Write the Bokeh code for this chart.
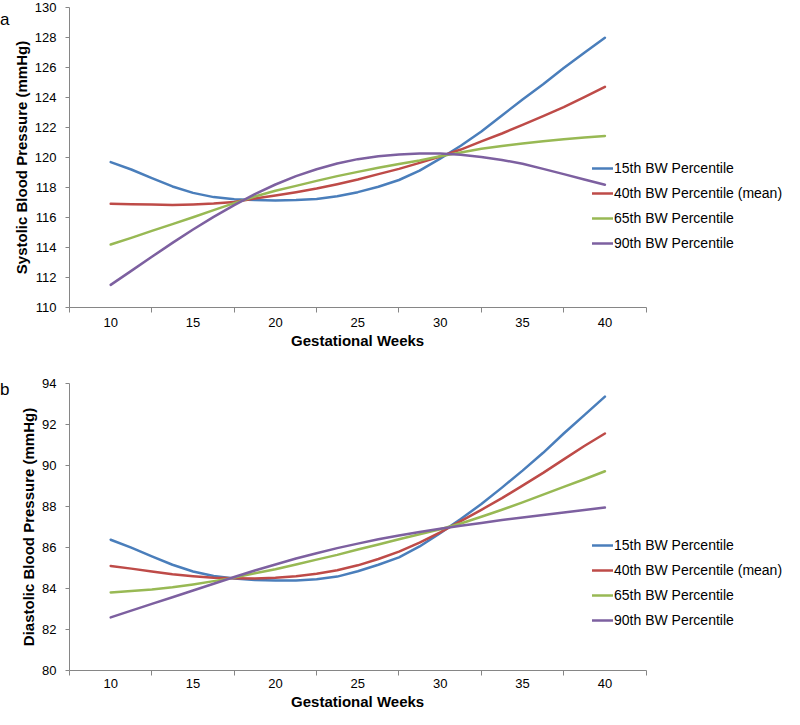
from bokeh.plotting import figure
from bokeh.models import (Range1d, FixedTicker, Legend, LegendItem, Title, Div)
from bokeh.layouts import column, row
from bokeh.embed import file_html
from bokeh.resources import INLINE

# ---------------- data ----------------
weeks = [10, 11.25, 12.5, 13.75, 15, 16.25, 17.5, 18.75, 20, 21.25, 22.5, 23.75,
         25, 26.25, 27.5, 28.75, 30, 31.25, 32.5, 33.75, 35, 36.25, 37.5, 38.75, 40]
x_tick_labels = [10, 15, 20, 25, 30, 35, 40]
x_tick_marks = [7.5, 12.5, 17.5, 22.5, 27.5, 32.5, 37.5, 42.5]
x_bounds = [7.5, 42.5]
series_names = ["15th BW Percentile", "40th BW Percentile (mean)",
                "65th BW Percentile", "90th BW Percentile"]
colors = ["#4A7EBB", "#BE4B48", "#98B954", "#7D60A0"]

# (a) systolic blood pressure (mmHg)
sbp_p15 = [119.69, 119.20, 118.62, 118.07, 117.64, 117.36, 117.22, 117.16, 117.13, 117.16,
           117.24, 117.42, 117.69, 118.05, 118.50, 119.12, 119.93, 120.78, 121.73, 122.80,
           123.87, 124.89, 125.96, 126.98, 127.98]
sbp_p40 = [116.91, 116.89, 116.87, 116.84, 116.87, 116.93, 117.04, 117.27, 117.47, 117.69,
           117.93, 118.22, 118.53, 118.89, 119.24, 119.64, 120.07, 120.53, 121.07, 121.60,
           122.18, 122.76, 123.36, 124.02, 124.71]
sbp_p65 = [114.20, 114.64, 115.11, 115.56, 116.02, 116.49, 116.96, 117.40, 117.78, 118.11,
           118.44, 118.76, 119.04, 119.31, 119.56, 119.80, 120.08, 120.34, 120.58, 120.76,
           120.93, 121.09, 121.22, 121.33, 121.44]
sbp_p90 = [111.51, 112.44, 113.38, 114.31, 115.20, 116.04, 116.82, 117.56, 118.20, 118.76,
           119.22, 119.60, 119.89, 120.09, 120.20, 120.27, 120.27, 120.18, 120.04, 119.84,
           119.58, 119.24, 118.89, 118.53, 118.18]
sbp_ticks = [110, 112, 114, 116, 118, 120, 122, 124, 126, 128, 130]

# (b) diastolic blood pressure (mmHg)
dbp_p15 = [86.38, 85.99, 85.57, 85.16, 84.83, 84.61, 84.49, 84.42, 84.39, 84.39,
           84.45, 84.58, 84.84, 85.16, 85.52, 86.05, 86.70, 87.39, 88.12, 88.92,
           89.75, 90.62, 91.56, 92.46, 93.36]
dbp_p40 = [85.10, 84.97, 84.83, 84.69, 84.60, 84.53, 84.50, 84.49, 84.52, 84.60,
           84.72, 84.89, 85.13, 85.44, 85.80, 86.24, 86.74, 87.29, 87.84, 88.41,
           89.02, 89.64, 90.30, 90.95, 91.56]
dbp_p65 = [83.81, 83.88, 83.95, 84.06, 84.20, 84.36, 84.53, 84.74, 84.94, 85.17,
           85.41, 85.64, 85.90, 86.15, 86.40, 86.65, 86.89, 87.17, 87.50, 87.84,
           88.20, 88.58, 88.96, 89.33, 89.72]
dbp_p90 = [82.59, 82.92, 83.25, 83.57, 83.90, 84.23, 84.56, 84.88, 85.17, 85.46,
           85.72, 85.97, 86.19, 86.40, 86.59, 86.76, 86.91, 87.06, 87.20, 87.34,
           87.46, 87.59, 87.71, 87.83, 87.95]
dbp_ticks = [80, 82, 84, 86, 88, 90, 92, 94]

FONT = "Liberation Sans"
AXIS_COLOR = "#868686"

LETTER_W = 8           # width of the column holding the panel letters
FIG_W = 784 - LETTER_W
BORDER_L = 61
FRAME_W = FIG_W - BORDER_L
FRAME_LEFT = LETTER_W + BORDER_L          # 69 px from the page's left
AXIS_RIGHT = 645.6
AXIS_PX = AXIS_RIGHT - FRAME_LEFT          # pixel length of the 7.5..42.5 axis
x_end = x_bounds[0] + FRAME_W * (x_bounds[1] - x_bounds[0]) / AXIS_PX
TITLE_TEXT_W = 133.4                       # "Gestational Weeks", 15px bold
title_offset = (FRAME_LEFT + AXIS_RIGHT) / 2.0 - TITLE_TEXT_W / 2.0 - FRAME_LEFT


def make_panel(height, top, bottom, yr, yticks, ytitle, series,
               legend_y, label_standoff, title_standoff):
    p = figure(width=FIG_W, height=height, output_backend="svg",
               toolbar_location=None, x_range=Range1d(x_bounds[0], x_end),
               y_range=Range1d(*yr),
               min_border_left=BORDER_L, min_border_right=0,
               min_border_top=top, min_border_bottom=bottom)
    p.outline_line_color = None
    p.grid.visible = False
    p.background_fill_color = "white"
    p.border_fill_alpha = 0

    xa = p.xaxis[0]
    xa.bounds = tuple(x_bounds)
    xa.ticker = FixedTicker(ticks=x_tick_labels, minor_ticks=x_tick_marks)
    xa.major_tick_out = 0
    xa.major_tick_in = 0
    xa.minor_tick_out = 5
    xa.minor_tick_in = 0
    xa.minor_tick_line_color = AXIS_COLOR
    xa.major_label_standoff = label_standoff

    ya = p.yaxis[0]
    ya.ticker = FixedTicker(ticks=yticks, minor_ticks=[])
    ya.major_tick_out = 4
    ya.major_tick_in = 0
    ya.major_label_standoff = 9
    ya.axis_label = ytitle
    ya.axis_label_standoff = 2
    ya.axis_label_text_font = FONT
    ya.axis_label_text_font_size = "15px"
    ya.axis_label_text_font_style = "bold"
    ya.axis_label_text_color = "black"

    for ax in (xa, ya):
        ax.axis_line_color = AXIS_COLOR
        ax.major_tick_line_color = AXIS_COLOR
        ax.major_label_text_font = FONT
        ax.major_label_text_font_size = "13px"
        ax.major_label_text_color = "black"

    xt = Title(text="Gestational Weeks", align="left",
               offset=title_offset, standoff=title_standoff,
               text_font=FONT, text_font_size="15px", text_font_style="bold",
               text_color="black")
    p.add_layout(xt, "below")

    items = []
    for name, col, ys in zip(series_names, colors, series):
        r = p.line(weeks, ys, line_color=col, line_width=2.5,
                   line_join="round", line_cap="round")
        items.append(LegendItem(label=name, renderers=[r]))

    leg = Legend(items=items, location=(592 - FRAME_LEFT, legend_y), padding=0,
                 margin=0, spacing=5, glyph_width=21, glyph_height=20,
                 label_height=20, label_standoff=1, border_line_color=None,
                 background_fill_alpha=0, label_text_font=FONT,
                 label_text_font_size="14px", label_text_color="black")
    p.add_layout(leg, "center")
    return p


def letter(txt, height, pad_top):
    return Div(text=('<div style="font-family:\'Liberation Sans\';font-size:17px;'
                     'line-height:20px;color:black;overflow:visible;'
                     'white-space:nowrap;padding-top:%dpx;">%s</div>'
                     % (pad_top, txt)),
               width=LETTER_W, height=height, margin=0,
               styles={"overflow": "visible"})


H1 = 362
H2 = 709 - H1
top = make_panel(H1, 7, 55, (110, 130), sbp_ticks,
                 "Systolic Blood Pressure (mmHg)",
                 [sbp_p15, sbp_p40, sbp_p65, sbp_p90],
                 legend_y=54, label_standoff=5, title_standoff=0)
bottom = make_panel(H2, 21, 38, (80, 94), dbp_ticks,
                    "Diastolic Blood Pressure (mmHg)",
                    [dbp_p15, dbp_p40, dbp_p65, dbp_p90],
                    legend_y=40, label_standoff=3, title_standoff=0)

layout = column(row(letter("a", H1, 10), top, spacing=0),
                row(letter("b", H2, 18), bottom, spacing=0), spacing=0)
open("out.html", "w").write(file_html(layout, INLINE))
